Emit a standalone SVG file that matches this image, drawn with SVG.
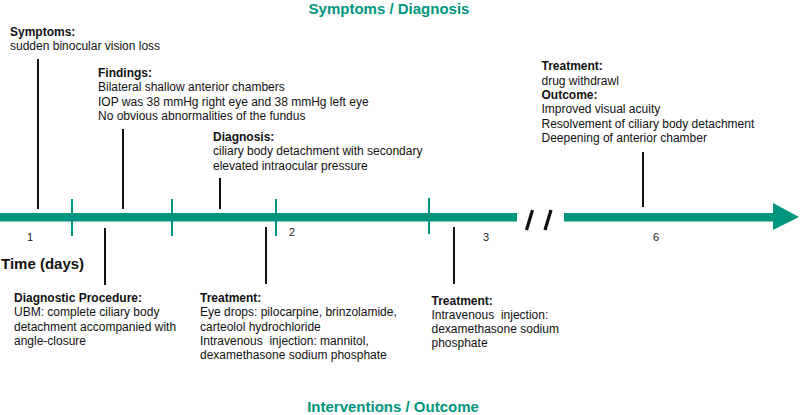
<svg xmlns="http://www.w3.org/2000/svg" width="800" height="415" viewBox="0 0 800 415">
<style>
text{font-family:"Liberation Sans",Arial,sans-serif;fill:#111;font-size:12px}
.b{font-weight:bold}
.title{font-weight:bold;font-size:15px;fill:#00967D}
.time{font-weight:bold;font-size:15px}
.num{font-size:11px;text-anchor:middle;fill:#222}
.pre{white-space:pre}
.tick{stroke:#00967D;stroke-width:2}
.bar{fill:#00967D}
.lead{stroke:#111;stroke-width:2}
.slash{stroke:#111;stroke-width:3.2}
</style>
<g id="titles">
<text class="title" x="389" y="13.5" text-anchor="middle">Symptoms / Diagnosis</text>
<text class="title" x="393" y="412" text-anchor="middle">Interventions / Outcome</text>
</g>
<g id="timeline">
<rect class="bar" x="0" y="213" width="517" height="8.5"/>
<rect class="bar" x="564" y="213" width="212" height="8.5"/>
<polygon class="bar" points="773,203 799,217 773,230"/>
<line class="tick" x1="72" y1="199" x2="72" y2="236"/>
<line class="tick" x1="172" y1="199" x2="172" y2="236"/>
<line class="tick" x1="276" y1="199" x2="276" y2="236"/>
<line class="tick" x1="429" y1="198" x2="429" y2="234"/>
<line class="slash" x1="526.5" y1="230" x2="532.5" y2="210"/>
<line class="slash" x1="545" y1="230" x2="551" y2="210"/>
<text class="num" x="30" y="241">1</text>
<text class="num" x="292" y="236">2</text>
<text class="num" x="486" y="241">3</text>
<text class="num" x="656" y="241">6</text>
<text class="time" x="1" y="269">Time (days)</text>
</g>
<g id="connectors">
<line class="lead" x1="38" y1="59" x2="38" y2="209"/>
<line class="lead" x1="123" y1="129" x2="123" y2="209"/>
<line class="lead" x1="220" y1="178" x2="220" y2="209"/>
<line class="lead" x1="643" y1="152" x2="643" y2="207"/>
<line class="lead" x1="105" y1="228" x2="105" y2="285"/>
<line class="lead" x1="266" y1="227" x2="266" y2="284"/>
<line class="lead" x1="454" y1="227" x2="454" y2="284"/>
</g>
<g id="symptoms">
<text x="10" y="36"><tspan class="b">Symptoms:</tspan><tspan x="10" y="50.3">sudden binocular vision loss</tspan></text>
</g>
<g id="findings">
<text x="98" y="77"><tspan class="b">Findings:</tspan><tspan x="98" y="91.3">Bilateral shallow anterior chambers</tspan><tspan x="98" y="105.6">IOP was 38 mmHg right eye and 38 mmHg left eye</tspan><tspan x="98" y="119.9">No obvious abnormalities of the fundus</tspan></text>
</g>
<g id="diagnosis">
<text x="213" y="141"><tspan class="b">Diagnosis:</tspan><tspan x="213" y="155.3">ciliary body detachment with secondary</tspan><tspan x="213" y="169.6">elevated intraocular pressure</tspan></text>
</g>
<g id="outcome">
<text x="541.5" y="70.3"><tspan class="b">Treatment:</tspan><tspan x="541.5" y="84.6">drug withdrawl</tspan><tspan x="541.5" y="98.9" class="b">Outcome:</tspan><tspan x="541.5" y="113.2">Improved visual acuity</tspan><tspan x="541.5" y="127.5">Resolvement of ciliary body detachment</tspan><tspan x="541.5" y="141.8">Deepening of anterior chamber</tspan></text>
</g>
<g id="diagnostic-procedure">
<text x="14" y="302"><tspan class="b">Diagnostic Procedure:</tspan><tspan x="14" y="316.3">UBM: complete ciliary body</tspan><tspan x="14" y="330.6">detachment accompanied with</tspan><tspan x="14" y="344.9">angle-closure</tspan></text>
</g>
<g id="treatment-1">
<text x="200" y="302" class="pre"><tspan class="b">Treatment:</tspan><tspan x="200" y="316.3">Eye drops: pilocarpine, brinzolamide,</tspan><tspan x="200" y="330.6">carteolol hydrochloride</tspan><tspan x="200" y="344.9">Intravenous  injection: mannitol,</tspan><tspan x="200" y="359.2">dexamethasone sodium phosphate</tspan></text>
</g>
<g id="treatment-2">
<text x="431.5" y="304.5" class="pre"><tspan class="b">Treatment:</tspan><tspan x="431.5" y="318.8">Intravenous  injection:</tspan><tspan x="431.5" y="333.1">dexamethasone sodium</tspan><tspan x="431.5" y="347.4">phosphate</tspan></text>
</g>
</svg>
